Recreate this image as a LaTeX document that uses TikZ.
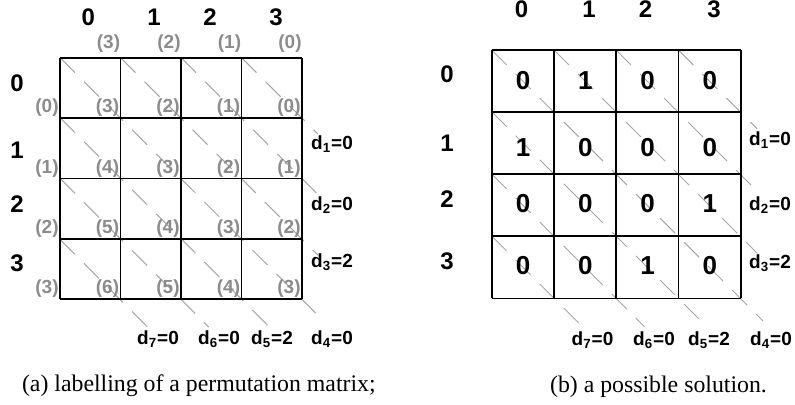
\documentclass[tikz,border=0pt]{standalone}
\usepackage{fontspec}
\setmainfont{Liberation Serif}
\setsansfont{Liberation Sans}
\begin{document}
\begin{tikzpicture}[x=0.5pt,y=-0.5pt,
	gridline/.style={line width=0.9pt},
	diag/.style={black!35,line width=0.5pt,dash pattern=on 10.6pt off 6.4pt},
	head/.style={font=\sffamily\bfseries\fontsize{12}{14}\selectfont},
	entry/.style={font=\sffamily\bfseries\fontsize{13}{15}\selectfont},
	lab/.style={black!45,font=\sffamily\bfseries\fontsize{9.5}{11}\selectfont},
	dlab/.style={font=\sffamily\bfseries\fontsize{9.5}{11}\selectfont},
	capt/.style={anchor=base west,font=\fontsize{11.9}{14}\selectfont}]
	\useasboundingbox (0,0) rectangle (795,405);
	% (a) labelling
	\foreach \x/\y/\u/\v in {241.5/57.7/318/134.2,181/57.7/318/194.7,120.5/57.7/318/255.2,
		60/57.7/320/317.4,60/117.7/269.3/327,60/178.3/208.7/327,60/239.3/147.7/327}
		\draw[diag] (\x,\y)--(\u,\v);
	\foreach \i in {0,...,4}{
		\draw[gridline] (60,57.7+60.4*\i)--(302,57.7+60.4*\i);
		\draw[gridline] (60+60.5*\i,57.7)--(60+60.5*\i,299.3);
	}
	\foreach \x [count=\j from 0] in {88.3,154,210,276}
		\node[head] (colA\j) at (\x,17.5) {\j};
	\foreach \y [count=\i from 0] in {83.5,150,204.5,263.5}
		\node[head] (rowA\i) at (17,\y) {\i};
	\foreach \j in {0,...,3}{
		\pgfmathtruncatemacro\k{3-\j}
		\node[lab] (topA\j) at (108.5+60.5*\j,44) {(\k)};
		\node[lab] (leftA\j) at (47,107.7+60.4*\j) {(\j)};
	}
	\foreach \i in {0,...,3}
		\foreach \j in {0,...,3}{
			\pgfmathtruncatemacro\k{\i+3-\j}
			\node[lab] (cellA\i\j) at (107.5+60.5*\j,107.7+60.4*\i) {(\k)};
		}
	\foreach \n/\val/\x/\y in {1/0/332/144.5,2/0/332/205.5,3/2/332/262.5,
		4/0/332/339,5/2/272/339,6/0/219/339,7/0/158/339}
		\node[dlab] (dA\n) at (\x,\y) {d\textsubscript{\n}=\val};
	\node[capt] (captA) at (15,391) {(a) labelling of a permutation matrix;};
	% (b) solution
	\foreach \x/\y/\u/\v in {678.3/50/757/128.7,616/50/757/191,554/50/757/253,
		491.7/50/763/321,491.7/111.7/707/327,491.7/174/644.7/327,491.7/236/582.7/327}
		\draw[diag] (\x,\y)--(\u,\v);
	\foreach \i in {0,...,4}{
		\draw[gridline] (491.7,50+62.1*\i)--(740.7,50+62.1*\i);
		\draw[gridline] (491.7+62.25*\i,50)--(491.7+62.25*\i,298.3);
	}
	\foreach \x [count=\j from 0] in {521.5,589,645.5,714}
		\node[head] (colB\j) at (\x,9) {\j};
	\foreach \y [count=\i from 0] in {74,143.5,199.5,261.5}
		\node[head] (rowB\i) at (447,\y) {\i};
	\foreach \i/\y/\row in {0/80.5/{0,1,0,0},1/147.5/{1,0,0,0},2/204/{0,0,0,1},3/266/{0,0,1,0}}
		\foreach \e [count=\j from 0] in \row
			\node[entry] (cellB\i\j) at (523+62.25*\j,\y) {\e};
	\foreach \n/\val/\x/\y in {1/0/770/140,2/0/770/205,3/2/770/263,
		4/0/771/340,5/2/709/340,6/0/654/340,7/0/592.5/340}
		\node[dlab] (dB\n) at (\x,\y) {d\textsubscript{\n}=\val};
	\node[capt] (captB) at (543,392) {(b) a possible solution.};
\end{tikzpicture}
\end{document}
